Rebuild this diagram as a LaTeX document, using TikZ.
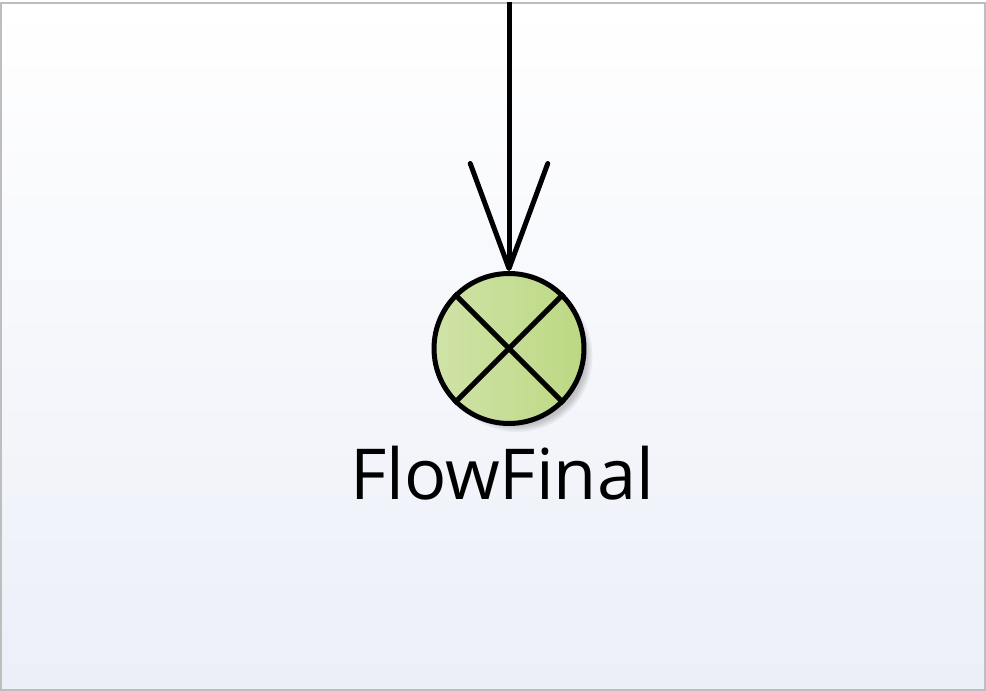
\documentclass[tikz,border=0pt]{standalone}
\usepackage{fontspec}
\setmainfont{Open Sans}
\usetikzlibrary{arrows.meta,positioning}
\definecolor{frame1}{HTML}{BEBEBE}
\definecolor{bgtop}{HTML}{FFFFFF}
\definecolor{bgbot}{HTML}{ECEFF8}
\definecolor{green1}{HTML}{D0E3A8}
\definecolor{green2}{HTML}{BCD882}
\definecolor{shadow1}{HTML}{8A8A8A}

\begin{document}
\begin{tikzpicture}[x=0.02cm,y=-0.02cm,
	final/.style={circle,draw=black,line width=0.1cm,minimum size=3cm,inner sep=0pt,left color=green1,right color=green2},
	flow/.style={line width=0.1cm,-{Straight Barb[length=2.1cm,width=1.55cm,line width=0.1cm,round]}}]
\shade[top color=bgtop,bottom color=bgbot] (0,0) rectangle (986,688);
\draw[frame1,line width=0.04cm] (1,1) rectangle (985,687);
% shadow
\foreach \o [count=\i] in {.1,.1,.12,.12,.12}{
	\fill[shadow1,opacity=\o] (517,354) circle ({77-1.5*\i});
	}
\node[final] (ff) at (509,346) {};
\draw[line width=0.1cm] (ff.north west) -- (ff.south east);
\draw[line width=0.1cm] (ff.north east) -- (ff.south west);
\node[anchor=base,font=\fontsize{40}{48}\selectfont] (lbl) at (502,497) {FlowFinal};
\coordinate (src) at (509,0);
\draw[flow] (src) -- (ff.north);
\end{tikzpicture}
\end{document}
